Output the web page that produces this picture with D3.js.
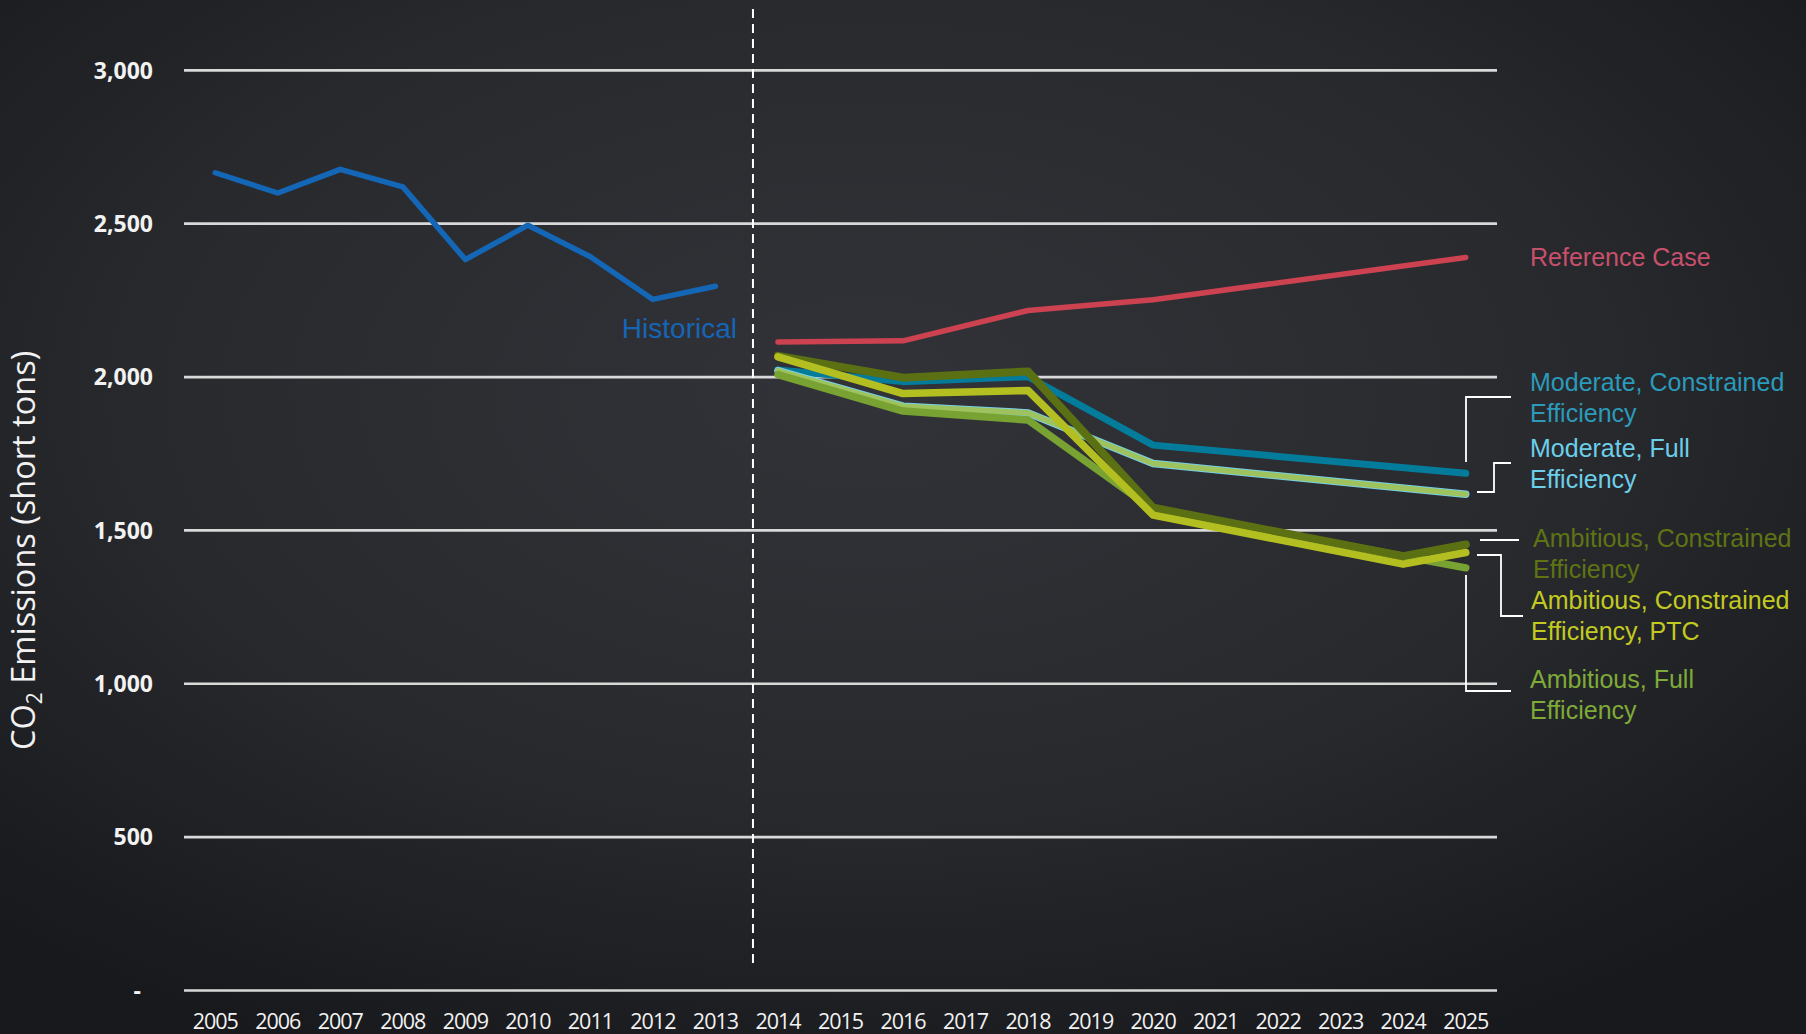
<!DOCTYPE html>
<html>
<head>
<meta charset="utf-8">
<script src="https://cdn.jsdelivr.net/npm/d3@7"></script>
<style>
  body { margin: 0; background: #1c1d21; }
  svg { display: block; }
</style>
</head>
<body>
<div id="chart"></div>
<script>
// ---- data ----
const yearLabels = [2005, 2006, 2007, 2008, 2009, 2010, 2011, 2012, 2013, 2014, 2015,
                    2016, 2017, 2018, 2019, 2020, 2021, 2022, 2023, 2024, 2025];
const yTicks = [0, 500, 1000, 1500, 2000, 2500, 3000];

const histYears = [2005, 2006, 2007, 2008, 2009, 2010, 2011, 2012, 2013];
const historical = [2666, 2600, 2677, 2620, 2383, 2495, 2392, 2253, 2296];

const projYears = [2014, 2016, 2018, 2020, 2025];
const projYearsKink = [2014, 2016, 2018, 2020, 2024, 2025];

const referenceCase = [2114, 2118, 2217, 2252, 2390];
const modConstrained = [2023, 1985, 2001, 1778, 1686];
const modFull = [2021, 1905, 1883, 1718, 1618];
const ambFull = [2008, 1889, 1860, 1568, 1378];
const ambConstrained = [2069, 1998, 2018, 1574, 1416, 1454];
const ambConstrainedPTC = [2066, 1946, 1956, 1550, 1390, 1428];

const projectionStart = 2013.6;

(() => {
    const W = 1806, H = 1034;

    const svg = d3.select("#chart").append("svg")
        .attr("width", W)
        .attr("height", H);

    // background
    const defs = svg.append("defs");
    const grad = defs.append("radialGradient")
        .attr("id", "bg")
        .attr("cx", "48%").attr("cy", "38%").attr("r", "70%");
    grad.append("stop").attr("offset", "0%").attr("stop-color", "#323338");
    grad.append("stop").attr("offset", "55%").attr("stop-color", "#292a2e");
    grad.append("stop").attr("offset", "100%").attr("stop-color", "#18191c");
    svg.append("rect").attr("width", W).attr("height", H).attr("fill", "url(#bg)");

    const x = d3.scaleLinear().domain([2004.5, 2025.5]).range([184, 1497]);
    const y = d3.scaleLinear().domain([0, 3000]).range([990.5, 70.3]);

    // gridlines
    svg.append("g")
        .selectAll("line")
        .data(yTicks)
        .join("line")
        .attr("x1", x(2004.5))
        .attr("x2", x(2025.5))
        .attr("y1", d => y(d))
        .attr("y2", d => y(d))
        .attr("stroke", "#d9d9d9")
        .attr("stroke-width", 2.7);

    // y tick labels
    svg.append("g")
        .selectAll("text")
        .data(yTicks)
        .join("text")
        .attr("x", d => d === 0 ? 141 : 153)
        .attr("y", d => y(d))
        .attr("dy", "0.36em")
        .attr("text-anchor", "end")
        .attr("fill", "#f2f2f2")
        .style("font-family", "'Open Sans', sans-serif")
        .style("font-weight", 700)
        .style("font-size", "23px")
        .text(d => d === 0 ? "-" : d3.format(",")(d));

    // x tick labels
    svg.append("g")
        .selectAll("text")
        .data(yearLabels)
        .join("text")
        .attr("x", d => x(d))
        .attr("y", 1029)
        .attr("text-anchor", "middle")
        .attr("fill", "#f2f2f2")
        .style("font-family", "'Open Sans', sans-serif")
        .style("font-size", "21.5px")
        .style("letter-spacing", "-1px")
        .text(d => d);

    // y axis title
    const title = svg.append("text")
        .attr("transform", `translate(35,${y(1435)}) rotate(-90)`)
        .attr("text-anchor", "middle")
        .attr("fill", "#f2f2f2")
        .style("font-family", "'Open Sans', sans-serif")
        .style("font-size", "32.5px");
    title.append("tspan").text("CO");
    title.append("tspan").attr("dy", 7).style("font-size", "21px").text("2");
    title.append("tspan").attr("dy", -7).text(" Emissions (short tons)");

    // projection divider
    svg.append("line")
        .attr("x1", x(projectionStart)).attr("x2", x(projectionStart))
        .attr("y1", y(3200)).attr("y2", y(72))
        .attr("stroke", "#ffffff")
        .attr("stroke-width", 2)
        .attr("stroke-dasharray", "9,6");

    const line = d3.line()
        .x(d => x(d[0]))
        .y(d => y(d[1]));

    const drawSeries = (years, values, color, width) => {
        svg.append("path")
            .datum(years.map((yr, i) => [yr, values[i]]))
            .attr("fill", "none")
            .attr("stroke", color)
            .attr("stroke-width", width)
            .attr("stroke-linecap", "round")
            .attr("stroke-linejoin", "round")
            .attr("d", line);
    };

    drawSeries(histYears, historical, "#1467b6", 5.5);
    drawSeries(projYears, modConstrained, "#037c9c", 7);
    drawSeries(projYears, modFull, "#78d0e6", 7.5);
    drawSeries(projYears, modFull, "#9dc25e", 5.5);
    drawSeries(projYears, ambFull, "#78a332", 7.5);
    drawSeries(projYearsKink, ambConstrained, "#5b7012", 8);
    drawSeries(projYearsKink, ambConstrainedPTC, "#b3bf20", 7.5);
    drawSeries(projYears, referenceCase, "#cc4250", 5.5);

    // "Historical" label
    svg.append("text")
        .attr("x", 737)
        .attr("y", 338)
        .attr("text-anchor", "end")
        .attr("fill", "#1565b6")
        .style("font-family", "'Liberation Sans', Arial, sans-serif")
        .style("font-size", "28px")
        .text("Historical");

    // right-side labels
    const labels = [
        { lines: ["Reference Case"], color: "#c8506c", x: 1530, y: 266 },
        { lines: ["Moderate, Constrained", "Efficiency"], color: "#2b9abb", x: 1530, y: 391 },
        { lines: ["Moderate, Full", "Efficiency"], color: "#6ccfe9", x: 1530, y: 457 },
        { lines: ["Ambitious, Constrained", "Efficiency"], color: "#5e7414", x: 1533, y: 547 },
        { lines: ["Ambitious, Constrained", "Efficiency, PTC"], color: "#c2ca22", x: 1531, y: 609 },
        { lines: ["Ambitious, Full", "Efficiency"], color: "#7eaa38", x: 1530, y: 688 }
    ];

    labels.forEach(l => {
        const t = svg.append("text")
            .attr("fill", l.color)
            .style("font-family", "'Liberation Sans', Arial, sans-serif")
            .style("font-size", "25px");
        l.lines.forEach((s, i) => {
            t.append("tspan").attr("x", l.x).attr("y", l.y + i * 31).text(s);
        });
    });

    // brackets tying labels to line ends
    const brackets = [
        "M1511,397 H1466 V462",
        "M1511,463 H1494 V492 H1477",
        "M1480,540 H1519",
        "M1477,555 H1501 V616 H1523",
        "M1466,575 V691 H1511"
    ];
    svg.append("g")
        .selectAll("path")
        .data(brackets)
        .join("path")
        .attr("d", d => d)
        .attr("fill", "none")
        .attr("stroke", "#ffffff")
        .attr("stroke-width", 1.8);
})();
</script>
</body>
</html>
